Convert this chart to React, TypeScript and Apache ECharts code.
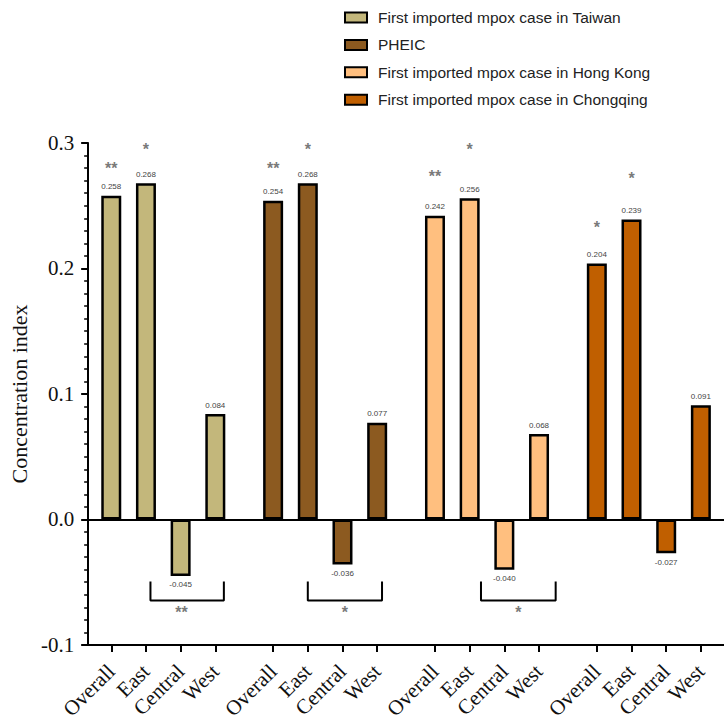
import React, { useEffect, useRef } from "react";
import * as echarts from "echarts";

// ---- data ----
const regions = ["Overall", "East", "Central", "West"];
const seriesNames = [
  "First imported mpox case in Taiwan",
  "PHEIC",
  "First imported mpox case in Hong Kong",
  "First imported mpox case in Chongqing",
];
const taiwan = [0.258, 0.268, -0.045, 0.084];
const pheic = [0.254, 0.268, -0.036, 0.077];
const hongKong = [0.242, 0.256, -0.04, 0.068];
const chongqing = [0.204, 0.239, -0.027, 0.091];
const seriesValues = [taiwan, pheic, hongKong, chongqing];
const colors = ["#C3B77B", "#8C5A20", "#FFBF7F", "#C05F00"];

// significance marks above bars (Overall, East) and the y level where they sit
const topStars = [
  ["**", "*"],
  ["**", "*"],
  ["**", "*"],
  ["*", "*"],
];
const topStarLevels = [
  [0.2795, 0.2945],
  [0.2795, 0.2945],
  [0.2735, 0.2945],
  [0.2325, 0.2715],
];
// Central–West comparison brackets (first three groups)
const bracketStars = ["**", "*", "*"];
const yTicks = [-0.1, 0.3, 0.1];

// ---- layout of category slots ----
const N_SLOTS = 56;
const GROUP_START = 2;
const GROUP_PERIOD = 14;
const BAR_STEP = 3;
const slotOf = (g: number, i: number) => GROUP_START + GROUP_PERIOD * g + BAR_STEP * i;

export default function App() {
  const ref = useRef<HTMLDivElement>(null);
  useEffect(() => {
    if (!ref.current) return;
    const chart = echarts.init(ref.current, undefined, { renderer: "svg" });

    const categories: string[] = new Array(N_SLOTS).fill("");
    seriesValues.forEach((_, g) =>
      regions.forEach((r, i) => {
        categories[slotOf(g, i)] = r;
      })
    );

    const barSeries = seriesValues.map((vals, g) => {
      const data: any[] = new Array(N_SLOTS).fill("-");
      vals.forEach((v, i) => {
        data[slotOf(g, i)] = {
          value: v,
          label: { position: v < 0 ? "bottom" : "top" },
        };
      });
      const s: any = {
        name: seriesNames[g],
        type: "bar",
        data,
        barWidth: 20,
        barGap: "-100%",
        itemStyle: { color: colors[g], borderColor: "#000", borderWidth: 2.5 },
        label: {
          show: true,
          formatter: (p: any) => Number(p.value).toFixed(3),
          fontSize: 8,
          fontFamily: "Liberation Sans",
          color: "#444",
          distance: 5,
        },
        z: 3,
      };
      if (g === 0) {
        s.markLine = {
          silent: true,
          symbol: "none",
          label: { show: false },
          lineStyle: { color: "#000", width: 2, type: "solid" },
          data: [{ yAxis: 0 }],
        };
      }
      return s;
    });

    // star annotations
    const starData: any[] = [];
    topStars.forEach((arr, g) =>
      arr.forEach((st, i) => {
        starData.push([slotOf(g, i), topStarLevels[g][i], st]);
      })
    );
    const bracketTop = -0.0495;
    const bracketBottom = -0.0646;
    const bracketEnds = [
      [5.39, 11.74],
      [19.0, 25.42],
      [33.98, 40.44],
    ];
    bracketStars.forEach((st, k) => {
      const [a, b] = bracketEnds[k];
      starData.push([(a + b) / 2 - (k === 0 ? 0.5 : 0), -0.0742, st]);
    });

    const bracketSeries = bracketEnds.map(([a, b]) => ({
      type: "line",
      xAxisIndex: 1,
      yAxisIndex: 0,
      symbol: "none",
      silent: true,
      lineStyle: { color: "#000", width: 2 },
      data: [
        [a, bracketTop],
        [a, bracketBottom],
        [b, bracketBottom],
        [b, bracketTop],
      ],
      z: 4,
    }));

    const serif = "Liberation Serif";
    const option: any = {
      animation: false,
      backgroundColor: "#fff",
      legend: {
        orient: "vertical",
        left: 344,
        top: 8.5,
        padding: 0,
        itemWidth: 22,
        itemHeight: 10,
        itemGap: 9.4,
        icon: "rect",
        data: seriesNames,
        textStyle: {
          fontFamily: "Liberation Sans",
          fontSize: 15.5,
          color: "#222",
          lineHeight: 18,
          padding: [0, 0, 0, 6],
        },
      },
      grid: { left: 80, top: 143, bottom: 77, width: 11.9 * (N_SLOTS - 1) },
      xAxis: [
        {
          type: "category",
          data: categories,
          boundaryGap: false,
          axisLine: { onZero: false, lineStyle: { color: "#000", width: 2 } },
          axisTick: {
            length: 7,
            lineStyle: { color: "#000", width: 2 },
            interval: (idx: number, val: string) => val !== "",
          },
          axisLabel: {
            interval: (idx: number, val: string) => val !== "",
            rotate: 45,
            margin: 23,
            fontFamily: serif,
            fontSize: 21,
            color: "#111",
          },
          splitLine: { show: false },
        },
        {
          type: "value",
          min: 0,
          max: N_SLOTS - 1,
          show: false,
        },
      ],
      yAxis: {
        type: "value",
        min: yTicks[0],
        max: yTicks[1],
        interval: yTicks[2],
        name: "Concentration index",
        nameLocation: "middle",
        nameGap: 58,
        nameTextStyle: { fontFamily: serif, fontSize: 22, color: "#111" },
        axisLine: { show: true, onZero: false, lineStyle: { color: "#000", width: 2 } },
        axisTick: { show: true, length: 7, lineStyle: { color: "#000", width: 2 } },
        minorTick: { show: true, splitNumber: 10, length: 4, lineStyle: { color: "#000", width: 1.5 } },
        splitLine: { show: false },
        axisLabel: {
          margin: 14,
          fontFamily: serif,
          fontSize: 21,
          color: "#111",
          formatter: (v: number) => v.toFixed(1),
        },
      },
      series: [
        ...barSeries,
        ...bracketSeries,
        {
          type: "scatter",
          xAxisIndex: 1,
          yAxisIndex: 0,
          symbolSize: 0,
          silent: true,
          data: starData,
          label: {
            show: true,
            position: "inside",
            formatter: (p: any) => p.value[2],
            fontFamily: "Liberation Sans",
            fontSize: 16,
            fontWeight: "bold",
            color: "#555",
          },
          z: 5,
        },
      ],
    };
    chart.setOption(option);
    return () => chart.dispose();
  }, []);
  return (
    <div
      ref={ref}
      style={{ position: "fixed", left: 0, top: 0, width: 724, height: 722 }}
    />
  );
}
